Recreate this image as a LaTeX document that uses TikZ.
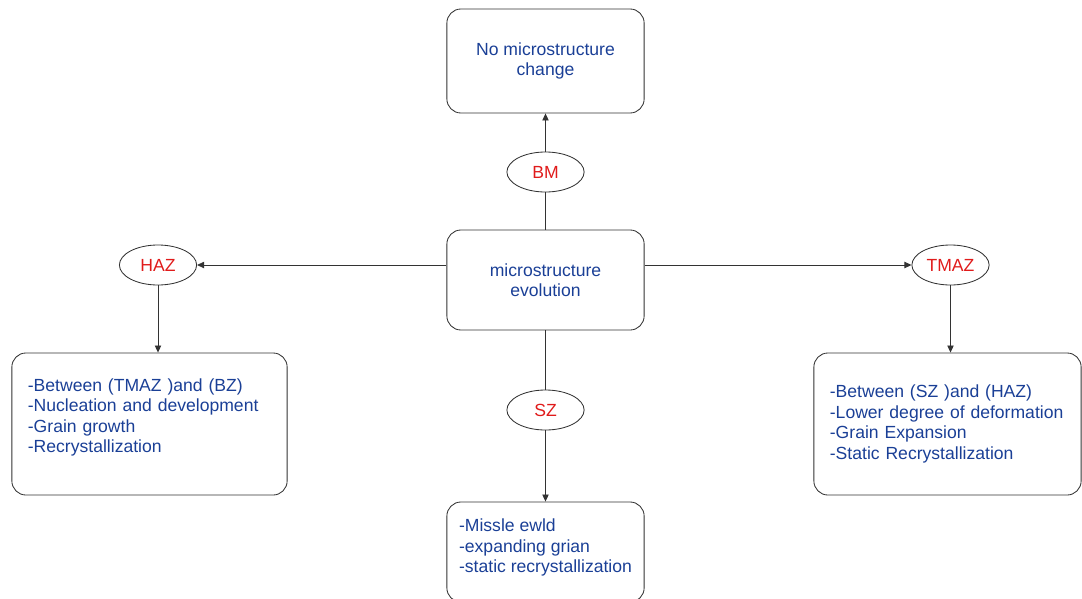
\documentclass[tikz,border=0pt]{standalone}
\usepackage{fontspec}
\setmainfont{Liberation Sans}
\usetikzlibrary{arrows.meta,shapes.geometric}
\definecolor{txtblue}{HTML}{1A3F96}
\definecolor{txtred}{HTML}{E01B1B}
\definecolor{edge}{HTML}{333333}
\begin{document}
\begin{tikzpicture}[x=0.025cm,y=-0.025cm,
  box/.style={draw=edge,line width=0.6pt,rounded corners=10pt,align=left,text=txtblue,
    font=\fontsize{12.5}{14.5}\selectfont,inner sep=0pt},
  zone/.style={draw=edge,line width=0.6pt,ellipse,minimum width=1.93cm,minimum height=1cm,
    inner sep=0pt,text=txtred,font=\fontsize{12.5}{14.5}\selectfont},
  link/.style={draw=edge,line width=0.6pt},
  arr/.style={link,-{Triangle[length=5pt,width=4.5pt]}}]
\useasboundingbox (0,0) rectangle (1082,598);
% boxes
\node[box,align=center,minimum width=4.93cm,minimum height=2.6cm] (nochange) at (545.5,61) {No microstructure\\change};
\node[box,align=center,minimum width=4.93cm,minimum height=2.5cm] (evol) at (545.5,280) {microstructure\\evolution};
\node[box,text width=6.08cm,minimum width=6.88cm,minimum height=3.55cm] (hazbox) at (149.5,424)
  {-Between (TMAZ )and (BZ)\\-Nucleation and development\\-Grain growth\\-Recrystallization\rule[-12pt]{0pt}{12pt}};
\node[box,text width=5.88cm,minimum width=6.68cm,minimum height=3.55cm] (tmazbox) at (947.5,424)
  {-Between (SZ )and (HAZ)\\-Lower degree of deformation\\-Grain Expansion\\-Static Recrystallization};
\node[box,minimum width=4.93cm,minimum height=2.5cm] (szbox) at (545.5,552)
  {-Missle ewld\\-expanding grian\\-static recrystallization\rule[-9pt]{0pt}{9pt}};
% zones
\node[zone] (bm) at (545.5,172) {BM};
\node[zone] (haz) at (158,265) {HAZ};
\node[zone] (tmaz) at (950.5,265) {TMAZ};
\node[zone] (sz) at (545.5,410) {SZ};
% connectors
\draw[link] (evol) -- (bm);
\draw[arr] (bm) -- (nochange);
\draw[arr] (evol.west |- haz) -- (haz);
\draw[arr] (evol.east |- tmaz) -- (tmaz);
\draw[link] (evol) -- (sz);
\draw[arr] (sz) -- (szbox);
\draw[arr] (haz) -- (haz |- hazbox.north);
\draw[arr] (tmaz) -- (tmaz |- tmazbox.north);
\end{tikzpicture}
\end{document}
